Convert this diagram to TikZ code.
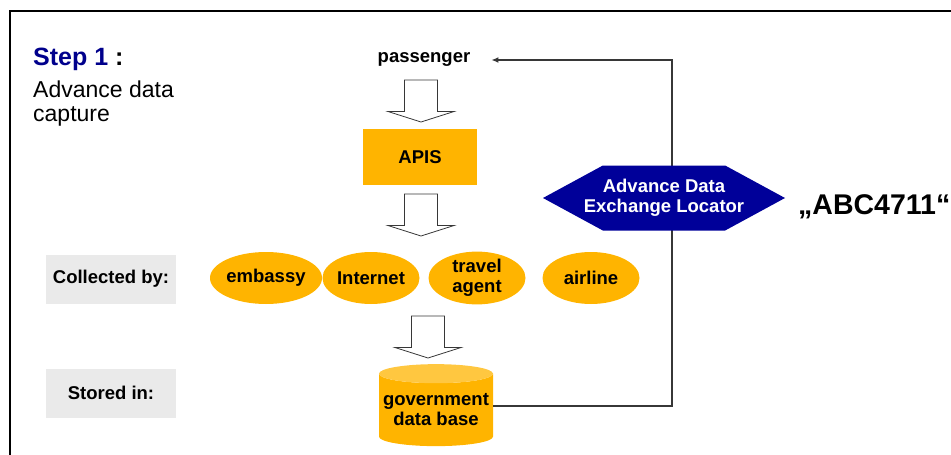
\documentclass[tikz,border=0pt]{standalone}
\usepackage{fontspec}
\setmainfont{Liberation Sans}
\usetikzlibrary{arrows.meta,positioning,shapes.geometric,shapes.symbols,calc}
\definecolor{apricot}{RGB}{255,180,0}
\definecolor{navy}{RGB}{0,0,153}
\definecolor{stepblue}{RGB}{0,0,140}
\definecolor{panel}{RGB}{234,234,234}
\definecolor{ink}{RGB}{55,55,55}
\tikzset{
  >={Latex[length=7pt,width=6pt]},
  lbl/.style={font=\fontsize{18.5}{20}\selectfont\bfseries,align=center,inner sep=0pt},
  source/.style={ellipse,fill=apricot,minimum width=97pt,minimum height=52pt,lbl},
  sidebox/.style={fill=panel,minimum width=130pt,minimum height=49pt,lbl},
  loopline/.style={->,draw=ink,line width=1.3pt},
  % hollow block arrow, origin at the top of the shaft
  pics/hollow arrow/.style={code={
    \draw[ink,fill=white,line width=0.8pt] (-16.5,0) -- (16.5,0) -- (16.5,-31.5) -- (33,-31.5)
      -- (0,-42) -- (-33,-31.5) -- (-16.5,-31.5) -- cycle;
  }},
}
\begin{document}
\begin{tikzpicture}[x=1pt,y=1pt]
  \useasboundingbox (0,0) rectangle (951,-455);
  \draw[line width=2pt] (10,-460) -- (10,-11) -- (960,-11);
  % heading
  \node[anchor=base west,inner sep=0pt,font=\fontsize{25}{28}\selectfont\bfseries] (title) at (33,-65)
    {\textcolor{stepblue}{Step 1} :};
  \node[anchor=base west,inner sep=0pt,font=\fontsize{23}{26}\selectfont] (sub1) at (33,-97) {Advance data};
  \node[anchor=base west,inner sep=0pt,font=\fontsize{23}{26}\selectfont] (sub2) at (33,-121) {capture};
  % main flow
  \node[lbl,anchor=base] (passenger) at (424,-62) {passenger};
  \pic at (421,-80) {hollow arrow};
  \node[lbl,fill=apricot,minimum width=114pt,minimum height=56pt] (apis) at (420,-157) {APIS};
  \pic at (421,-194) {hollow arrow};
  \node[sidebox] (collected) at (111,-279) {Collected by:};
  \node[source] (embassy) at (266,-278) {embassy};
  \node[source] (internet) at (371,-278) {Internet};
  \node[source] (travel) at (477,-278) {travel\\agent};
  \node[source] (airline) at (591,-278) {airline};
  \pic at (428,-316) {hollow arrow};
  \node[sidebox] (stored) at (111,-393) {Stored in:};
  \node[cylinder,shape border rotate=90,aspect=0.18,minimum width=114pt,minimum height=82pt,
    cylinder uses custom fill,cylinder body fill=apricot,cylinder end fill=apricot!75!white,lbl] (db) at (436,-410)
    {government\\data base};
  % feedback to the passenger
  \coordinate (turn) at (672,-60);
  \draw[loopline,shorten >=21pt] (db.east |- 0,-406) -| (turn) -- (turn -| passenger.east);
  \node[signal,signal to=east and west,signal pointer angle=57,fill=navy,inner sep=0pt,
    minimum width=242pt,minimum height=65pt] (locator) at (664,-198) {};
  \node[lbl,text=white] (locatortext) at (locator.center) {Advance Data\\Exchange Locator};
  \node[anchor=west,inner sep=0pt,font=\fontsize{28.5}{30}\selectfont\bfseries] (code) at (798,-207) {„ABC4711“};
\end{tikzpicture}
\end{document}
